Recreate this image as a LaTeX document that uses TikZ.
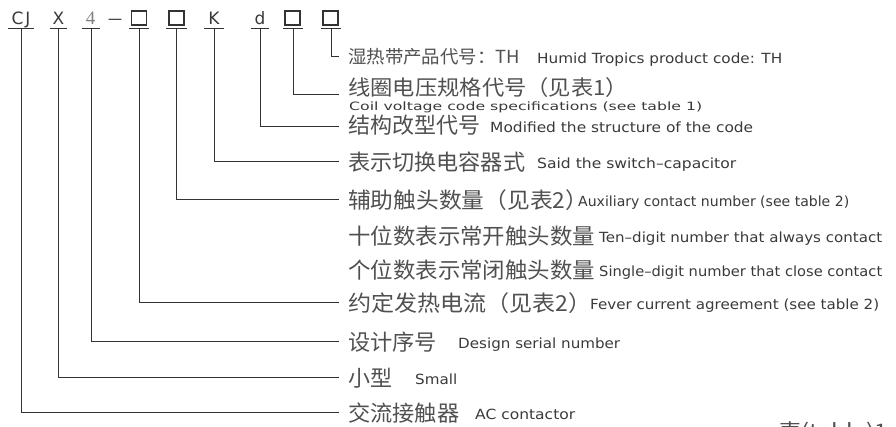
\documentclass[tikz,border=0pt]{standalone}
\usepackage{fontspec}
\usepackage{graphicx}
\setmainfont{DejaVu Sans}
\newfontfamily\cjk{Noto Sans CJK SC}
\newfontfamily\serifd{Liberation Serif}
\newcommand\fitw[2]{\resizebox{#1}{\height}{#2}}
\newcommand\zhf[3]{\cjk\fontsize{#1pt}{#1pt}\selectfont\fitw{#2}{#3}}
\newcommand\enf[3]{\fontsize{#1pt}{#1pt}\selectfont\fitw{#2}{#3}}
\definecolor{linec}{HTML}{333333}
\definecolor{zhc}{HTML}{505050}
\definecolor{enc}{HTML}{3A3A3A}
\definecolor{fourc}{HTML}{808080}
\begin{document}
\begin{tikzpicture}[x=1pt,y=-1pt,
  zh/.style={anchor=base west, inner sep=0pt, text=zhc},
  en/.style={anchor=base west, inner sep=0pt, text=enc},
  hdr/.style={anchor=base, inner sep=0pt, text=enc, font=\fontsize{17pt}{17pt}\selectfont},
  sq/.style={draw=linec, line width=1.1pt, minimum width=15pt, minimum height=14pt, inner sep=0pt},
  ul/.style={inner sep=0pt, minimum height=0pt},
  ulin/.style={draw=linec, line width=1.3pt},
  conn/.style={draw=linec, line width=1pt, shorten >=9pt}]
\useasboundingbox (0,0) rectangle (896,426);

% header
\node[hdr] (tCJ) at (21,24) {C\hspace{2pt}J};
\node[hdr] (tX) at (58.5,24) {X};
\node[hdr, text=fourc, font=\serifd\fontsize{19pt}{19pt}\selectfont] (t4) at (90.5,24) {4};
\node[hdr] (tdash) at (115,24) {\fitw{16pt}{–}};
\node[sq] (b1) at (139,18) {};
\node[sq] (b2) at (176.5,18) {};
\node[hdr] (tK) at (214,24) {K};
\node[hdr] (td) at (260,24) {d};
\node[sq] (b3) at (292.5,18) {};
\node[sq] (b4) at (330.5,18) {};

% underlines
\node[ul, minimum width=25pt] (uCJ) at (21,28.5) {};
\node[ul, minimum width=17pt] (uX) at (58.5,28.5) {};
\node[ul, minimum width=18pt] (u4) at (91,28.5) {};
\node[ul, minimum width=20pt] (uB1) at (139,28.5) {};
\node[ul, minimum width=20pt] (uB2) at (176.5,28.5) {};
\node[ul, minimum width=20pt] (uK) at (214,28.5) {};
\node[ul, minimum width=18pt] (ud) at (260,28.5) {};
\node[ul, minimum width=20pt] (uB3) at (293,28.5) {};
\node[ul, minimum width=20pt] (uB4) at (331,28.5) {};
\foreach \n in {uCJ,uX,u4,uB1,uB2,uK,ud,uB3,uB4}
  \draw[ulin] (\n.west) -- (\n.east);

% labels
\node[zh] (c1) at (348,63) {\zhf{18}{172pt}{湿热带产品代号：TH}};
\node[en] (e1) at (537,63) {\enf{14}{245pt}{Humid Tropics product code: TH}};
\node[zh] (c2) at (348,95.5) {\zhf{21}{280pt}{线圈电压规格代号（见表1）}};
\node[en] (e2) at (349,110) {\enf{11.5}{353pt}{Coil voltage code specifications (see table 1)}};
\node[zh] (c3) at (348,133.5) {\zhf{22}{132pt}{结构改型代号}};
\node[en] (e3) at (490,132) {\enf{14}{263pt}{Modified the structure of the code}};
\node[zh] (c4) at (348,170) {\zhf{22}{177pt}{表示切换电容器式}};
\node[en] (e4) at (537,168) {\enf{14}{199pt}{Said the switch–capacitor}};
\node[zh] (c5) at (348,208) {\zhf{22}{240pt}{辅助触头数量（见表2）}};
\node[en] (e5) at (578,206) {\enf{14}{271pt}{Auxiliary contact number (see table 2)}};
\node[zh] (c6) at (348,244) {\zhf{22}{247pt}{十位数表示常开触头数量}};
\node[en] (e6) at (599,242) {\enf{14}{283pt}{Ten–digit number that always contact}};
\node[zh] (c7) at (348,278) {\zhf{22}{247pt}{个位数表示常闭触头数量}};
\node[en] (e7) at (599,276) {\enf{14}{283pt}{Single–digit number that close contact}};
\node[zh] (c8) at (348,311) {\zhf{22}{243pt}{约定发热电流（见表2）}};
\node[en] (e8) at (590,309) {\enf{14}{289pt}{Fever current agreement (see table 2)}};
\node[zh] (c9) at (348,350) {\zhf{22}{89pt}{设计序号}};
\node[en] (e9) at (458,348) {\enf{14}{162pt}{Design serial number}};
\node[zh] (c10) at (348,386) {\zhf{22}{44pt}{小型}};
\node[en] (e10) at (415,384) {\enf{14}{42pt}{Small}};
\node[zh] (c11) at (348,421) {\zhf{22}{111pt}{交流接触器}};
\node[en] (e11) at (475,419) {\enf{14}{100pt}{AC contactor}};
\node[zh] (c12) at (778,438) {\zhf{20}{109pt}{表(table)1}};

% connectors
\draw[conn] (uB4.center) |- (c1.west);
\draw[conn] (uB3.center) |- ([yshift=-6.5pt]c2.west);
\draw[conn] (ud.center) |- ([yshift=-1.5pt]c3.west);
\draw[conn] (uK.center) |- (c4.west);
\draw[conn] (uB2.center) |- (c5.west);
\draw[conn] (uB1.center) |- (c8.west);
\draw[conn] (u4.center) |- (c9.west);
\draw[conn] (uX.center) |- (c10.west);
\draw[conn] (uCJ.center) |- (c11.west);
\end{tikzpicture}
\end{document}
